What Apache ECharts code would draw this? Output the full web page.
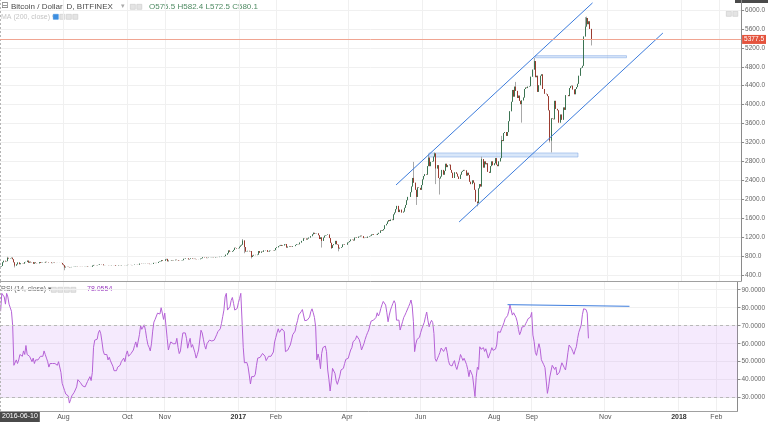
<!DOCTYPE html>
<html><head><meta charset="utf-8">
<script src="https://cdn.jsdelivr.net/npm/echarts@6/dist/echarts.min.js"></script>
<style>html,body{margin:0;padding:0;background:#fff}#c{width:768px;height:422px}</style>
</head><body><div id="c"></div><script>
// ---------- data ----------
const startDate = '2016-06-10';
const gapDates = ['2016-08-03','2016-08-04','2016-08-05','2016-08-06','2016-08-07','2016-08-08','2016-08-09','2016-08-10'];
const axisEndDate = '2018-02-18';
const firstOpen = 575.5;
const closes = [
 580.1,590,668,700,686,692,762,748,755,765,733,668,598,625,664,664,628,648,645,640,672,
 677,703,660,680,667,672,638,665,652,648,647,672,655,660,665,662,678,672,672,665,665,651,655,660,653,654,655,655,656,654,624,
 606,560,575,572,568,562,565,570,572,575,580,582,578,577,575,576,574,576,578,580,572,574,573,
 574,598,612,609,606,611,614,627,623,623,606,608,609,609,606,607,606,611,610,609,597,596,603,602,600,606,606,604,605,608,
 613,611,612,609,611,611,618,619,616,617,640,636,637,640,639,642,639,637,630,631,633,656,655,652,655,676,684,690,713,700,700,
 730,740,690,704,703,712,706,711,722,715,716,705,703,707,713,742,740,750,751,730,737,750,740,737,742,735,731,733,733,745,
 755,775,768,768,757,761,767,769,772,775,770,778,780,778,778,784,790,790,792,799,829,860,918,893,890,904,930,975,970,960,966,
 998,1022,1040,1130,990,895,900,910,900,905,780,810,825,820,820,830,905,870,895,890,920,920,925,890,895,915,920,920,915,925,970,
 985,1010,1020,1035,1015,1025,1050,1055,980,1000,1010,1000,995,1010,1010,1035,1050,1055,1050,1085,1120,1120,1175,1170,1150,1170,1190,1190,
 1220,1260,1290,1270,1275,1280,1240,1160,1195,1120,1190,1230,1240,1245,1255,1180,1080,970,1030,1050,1120,1050,1040,960,975,990,1045,1050,1040,1040,1085,
 1095,1115,1150,1145,1130,1190,1195,1185,1210,1215,1230,1220,1180,1185,1190,1185,1210,1220,1230,1255,1265,1250,1250,1245,1270,1290,1340,1330,1345,1370,
 1450,1480,1530,1560,1540,1570,1560,1680,1720,1790,1860,1730,1780,1780,1720,1740,1820,1880,1980,2050,2050,2150,2270,2450,2350,2200,2050,2250,2240,2200,2300,
 2420,2490,2530,2520,2700,2880,2700,2790,2800,2900,2970,2650,2720,2450,2440,2480,2620,2520,2600,2750,2680,2720,2730,2620,2560,2450,2570,2570,2540,2480,
 2430,2520,2580,2600,2620,2610,2500,2560,2510,2370,2320,2400,2350,2200,1950,1920,2230,2320,2270,2850,2670,2800,2740,2760,2580,2560,2700,2800,2720,2760,2870,
 2730,2700,2800,2870,3250,3230,3400,3420,3340,3420,3650,3860,4060,4310,4170,4380,4290,4140,4190,4080,4010,4090,4150,4330,4360,4350,4380,4390,4590,4590,4740,
 4920,4580,4610,4270,4410,4610,4640,4330,4330,4230,4220,4180,3880,3240,3710,3700,3690,4080,3910,3880,3620,3620,3790,3680,3940,3890,4200,4200,4180,4350,
 4390,4400,4320,4220,4330,4370,4440,4610,4770,4780,4820,5440,5650,5830,5700,5760,5600,5377.5
];
const highWicks = {'2016-06-10':582.4,'2016-06-16':785,'2017-01-04':1160,'2017-03-03':1300,'2017-05-25':2790,'2017-06-06':2950,'2017-06-11':2990,
 '2017-07-20':2900,'2017-08-05':3340,'2017-08-17':4480,'2017-09-01':4990,'2017-10-13':5850,'2017-10-14':5860};
const lowWicks = {'2016-06-10':572.5,'2016-06-22':560,'2016-08-02':500,'2017-01-05':860,'2017-01-11':750,'2017-03-10':980,'2017-03-18':950,
 '2017-03-24':900,'2017-05-27':1880,'2017-06-12':2320,'2017-06-15':2100,'2017-07-16':1850,'2017-08-22':3620,'2017-09-14':3200,'2017-09-15':2990,'2017-10-18':5250};
const rsiValues = [
 78.0554,88,89,86,82,88,86,82,80,78,70,48,48,51,49,51,54,53,53,56,54,59,54,55,53,52,50,52,49,51,
 52,51,52,53,54,53,56,54,52,50,47,49,48,49,50,49,50,48,50,49,44,38,36,34,32,31.5,31,27,29,31,31.5,33,34,36,40,40.7,38.5,38,36.5,37,36,37,39,40,41.7,39.5,44,58,62,61.5,62.5,66,67.5,65.5,61,56,54,53,54,51,52.5,
 50.5,50,47.5,45,44,45,47,48,48,50,51,52,50,54,56,53,53,54.5,55.5,56.5,59,61,58,58,65,70,68,67,70.5,67.5,63,59.5,58,56,60,67,72,73.5,72.5,77,78,76.5,80,77,73.5,77,78,63,56.5,59,61,60,60,59,
 60,63,58,54.5,56,61.5,66,67,66,63,57.5,60.5,63,58,59.5,59,55,52,54,56.5,57,67.5,66,62.5,59,57,60,61,62,63,61.5,62,
 62,63,65,66.7,67.5,68.3,71.3,75,78.7,86,88,78.7,78.7,80.6,84,85.7,82.4,78.7,78.3,79.6,82.8,85.2,88,88.3,58,49.4,50,49.6,47.2,42.6,37.6,41.7,42.4,41.7,43,48,52,52.2,52.4,53.1,54.6,55.6,53.1,50.6,51,53,53.3,53,53.7,55.4,61,63.5,66,68.3,66.3,65.7,68.3,69.3,66.7,55.6,56.5,56.5,58,
 59.3,62,65,66,67,70.4,72.8,76,76,77.8,79,78.3,72.8,71.7,73.1,74.1,74.8,77.8,79.4,77.2,74.6,69.4,51,54.3,51.7,46.1,54.6,57.8,58.9,58.7,55.6,45.4,40.2,33.7,39.3,46.3,46.9,43.5,39.3,37.4,37,42,45.4,46.1,46.3,49,51.3,51.3,51.9,54.3,56.5,57.8,61.1,61.1,62.4,
 64.4,63.9,62.4,60.2,56.5,56.5,60,62.4,64.4,66.1,67.6,70.4,72.6,73.1,73.1,72.4,74.6,77.2,75.4,76.9,79.6,81.7,83.5,83.9,81.5,77.2,72.2,75.9,78.7,80.6,82.4,83.9,82.4,73.1,72.2,73.1,67.6,68.5,72.2,74.6,75.9,77.4,77.2,80.6,82.2,84.3,80.9,72.2,55.6,59.8,62.4,61.7,63.5,66.1,68.3,69.4,71.9,75,77.6,73.1,69.4,71.5,73,71.7,65.7,51.7,50.2,50.9,53.5,55.2,57.6,57,55.7,56.9,58.1,55,50.7,48.3,48.9,47.6,49.4,50.6,
 47.4,45.7,48.3,50.7,54,52.4,50.7,51.9,51.7,48.5,45.7,41.7,45.4,44.8,42.2,36.5,30.6,41.3,46.9,45.7,58.3,56.9,57.8,57.8,55.7,57.2,56.1,52,52.6,55.7,57.8,56.3,56,57,59.3,66.7,67.4,66.3,68.3,69.8,71.7,73.9,75,75.6,78.1,81.5,80.7,75.9,77.2,76.7,74.6,72.2,68,65,66.7,69.3,
 68.9,69.6,71.1,72.4,73.9,73.5,74.8,77.4,64.8,61.3,55.2,53.5,57,60,57.2,51.1,50,48.3,46.7,46.1,32.4,36,41.5,42.2,48,49,45.7,47,42.6,42,44.2,47,49.4,49.8,46.7,45.4,49.8,55,59.3,59.3,57.4,55.7,54.1,56.5,58.3,62.8,66.3,66.7,70.4,76.1,79.4,79.8,79,77,63
];
const priceTicks = [400,800,1200,1600,2000,2400,2800,3200,3600,4000,4400,4800,5200,5600,6000];
const rsiTicks = [30,40,50,60,70,80,90];
const monthTickLabels = {'2016-08-01':'Aug','2016-10-01':'Oct','2016-11-01':'Nov','2017-01-01':'2017','2017-02-01':'Feb','2017-04-01':'Apr',
 '2017-06-01':'Jun','2017-08-01':'Aug','2017-09-01':'Sep','2017-11-01':'Nov','2018-01-01':'2018','2018-02-01':'Feb'};
const lastPrice = 5377.5;
const channelUpper = [['2017-05-10',2302],['2017-10-19',6150]];
const channelLower = [['2017-07-01',1520],['2017-12-16',5513]];
const zoneLow = ['2017-06-06','2017-10-07',2893,2978];
const zoneHigh = ['2017-09-02','2017-11-16',4990,5035];
const rsiTrend = [['2017-08-12',81.7],['2017-11-21',80.8]];

// ---------- build ----------
const dates = [];
(function(){let t=Date.parse(startDate+'T00:00:00Z');const e=Date.parse(axisEndDate+'T00:00:00Z');
 while(t<=e){const s=new Date(t).toISOString().slice(0,10); if(gapDates.indexOf(s)<0) dates.push(s); t+=86400000;}})();
if (closes.length !== 488 || rsiValues.length !== 488) throw new Error('len '+closes.length+' '+rsiValues.length);
const wickData=[], bodyData=[];
closes.forEach((c,i)=>{const o=i===0?firstOpen:closes[i-1]; const lo=Math.min(o,c), hi=Math.max(o,c); const d=dates[i];
 wickData.push([o,c, lowWicks[d]!==undefined?lowWicks[d]:lo, highWicks[d]!==undefined?highWicks[d]:hi]);
 bodyData.push([o,c,lo,hi]);});
const isTick=(i,v)=>monthTickLabels[v]!==undefined;
const FONT='Liberation Sans, Arial, sans-serif';
const chart=echarts.init(document.getElementById('c'),null,{renderer:'canvas'});
const gridLine={color:'#f0f0f0',width:1};
const header = 'O'+firstOpen.toFixed(1)+' H'+highWicks[startDate].toFixed(1)+' L'+lowWicks[startDate].toFixed(1)+' C'+closes[0].toFixed(1);
function icons(x,y,n,firstBlue){const a=[];for(let k=0;k<n;k++){a.push({type:'rect',left:x+k*6.5,top:y,shape:{width:5,height:5},
 style:{fill:(k===0&&firstBlue)?'#3d8ee0':'#e4e4e4',stroke:(k===0&&firstBlue)?'#3d8ee0':'#c8c8c8',lineWidth:0.6}});}return a;}
chart.setOption({
 animation:false,
 textStyle:{fontFamily:FONT},
 grid:[{left:0,top:0,width:743,height:281},{left:0,top:282,width:743,height:129}],
 xAxis:[
  {gridIndex:0,type:'category',data:dates,boundaryGap:true,axisLine:{show:true,lineStyle:{color:'#a0a0a0'}},axisTick:{show:false},axisLabel:{show:false},
   splitLine:{show:true,interval:isTick,lineStyle:gridLine}},
  {gridIndex:1,type:'category',data:dates,boundaryGap:true,axisLine:{show:true,lineStyle:{color:'#a0a0a0'}},axisTick:{show:false},
   axisLabel:{interval:isTick,margin:3,fontSize:7,color:'#555',formatter:v=>{const s=monthTickLabels[v]||'';return /^\d{4}$/.test(s)?'{y|'+s+'}':s;},
    rich:{y:{fontSize:7,fontWeight:'bold',color:'#333'}}},
   splitLine:{show:true,interval:isTick,lineStyle:gridLine}}
 ],
 yAxis:[
  {gridIndex:0,type:'value',position:'right',min:273,max:6211,
   axisLine:{show:true,lineStyle:{color:'#8a8a8a'}},axisTick:{show:true,length:3,customValues:priceTicks,lineStyle:{color:'#8a8a8a'}},
   axisLabel:{customValues:priceTicks,formatter:v=>v.toFixed(1),fontSize:6.5,color:'#666',margin:4},
   splitLine:{show:true,lineStyle:gridLine}},
  {gridIndex:1,type:'value',position:'right',min:22.6,max:94.3,
   axisLine:{show:true,lineStyle:{color:'#8a8a8a'}},axisTick:{show:true,length:3,customValues:rsiTicks,lineStyle:{color:'#8a8a8a'}},
   axisLabel:{customValues:rsiTicks,formatter:v=>v.toFixed(4),fontSize:6.5,color:'#666',margin:4},
   splitLine:{show:true,lineStyle:gridLine}}
 ],
 series:[
  {type:'candlestick',xAxisIndex:0,yAxisIndex:0,data:wickData,barWidth:1,
   itemStyle:{color:'#a8a8a8',color0:'#a8a8a8',borderColor:'#a8a8a8',borderColor0:'#a8a8a8',borderWidth:1},
   markLine:{silent:true,symbol:'none',label:{show:false},lineStyle:{color:'#b5b5b5',type:[2,2],width:1},data:[{xAxis:startDate}]}},
  {type:'candlestick',xAxisIndex:0,yAxisIndex:0,data:bodyData,barWidth:1,
   itemStyle:{color:'#5d9e74',color0:'#c4473a',borderColor:'#2f6e48',borderColor0:'#9a2f22',borderWidth:0.9},
   markArea:{silent:true,itemStyle:{color:'rgba(160,195,240,0.4)',borderColor:'rgba(130,170,230,0.55)',borderWidth:1},
    data:[[{coord:[zoneLow[0],zoneLow[2]]},{coord:[zoneLow[1],zoneLow[3]]}],[{coord:[zoneHigh[0],zoneHigh[2]]},{coord:[zoneHigh[1],zoneHigh[3]]}]]},
   markLine:{silent:true,symbol:'none',
    data:[
     [{coord:channelUpper[0],lineStyle:{color:'#3b7bdc',width:1,type:'solid'},label:{show:false}},{coord:channelUpper[1]}],
     [{coord:channelLower[0],lineStyle:{color:'#3b7bdc',width:1,type:'solid'},label:{show:false}},{coord:channelLower[1]}],
     {yAxis:lastPrice,lineStyle:{color:'#f0a592',width:1,type:'solid'},
      label:{show:true,position:'end',distance:1,formatter:lastPrice.toFixed(1),color:'#fff',backgroundColor:'#e4533d',padding:[1,2,1,2],fontSize:6.5}}
    ]}},
  {type:'line',xAxisIndex:1,yAxisIndex:1,data:rsiValues,showSymbol:false,lineStyle:{color:'#b562d6',width:1},z:3,
   markArea:{silent:true,itemStyle:{color:'rgba(205,150,245,0.2)'},data:[[{yAxis:30},{yAxis:70}]]},
   markLine:{silent:true,symbol:'none',label:{show:false},
    data:[
     {yAxis:70,lineStyle:{color:'#b8b8b8',type:[3,3],width:1}},
     {yAxis:30,lineStyle:{color:'#b8b8b8',type:[3,3],width:1}},
     {xAxis:startDate,lineStyle:{color:'#b5b5b5',type:[2,2],width:1}},
     [{coord:rsiTrend[0],lineStyle:{color:'#3b7bdc',width:1,type:'solid'}},{coord:rsiTrend[1]}]
    ]}}
 ],
 graphic:[
  {type:'text',left:1,top:1.5,style:{text:'⊟',font:'9px DejaVu Sans',fill:'#777'}},
  {type:'text',left:11,top:2.5,style:{text:'Bitcoin / Dollar, D, BITFINEX',font:'8px '+FONT,fill:'#4a4a4a'}},
  {type:'text',left:121,top:3,style:{text:'▾',font:'7px DejaVu Sans',fill:'#aaa'}},
  ...icons(130,4,2,false),
  {type:'text',left:149,top:2.5,style:{text:header,font:'8px '+FONT,fill:'#4e8a62'}},
  {type:'text',left:1,top:13.5,style:{text:'MA (200, close) ▾',font:'7px '+FONT,fill:'#c4c4c4'}},
  ...icons(53,14,4,true),
  {type:'text',left:1,top:286,style:{text:'RSI (14, close) ▾',font:'6.8px '+FONT,fill:'#666'}},
  ...icons(51,287,4,false),
  {type:'text',left:87,top:286,style:{text:rsiValues[0].toFixed(4),font:'7px '+FONT,fill:'#9b3fc0'}},
  {type:'rect',left:735,top:-6,shape:{width:33,height:9},style:{fill:'#4a4a4a'}},
  ...icons(726,11,2,false),
  {type:'text',left:0,top:411,style:{text:startDate,font:'7px '+FONT,fill:'#fff',backgroundColor:'#4a4a4a',padding:[2,2,2,2]}}
 ]
});
</script></body></html>
